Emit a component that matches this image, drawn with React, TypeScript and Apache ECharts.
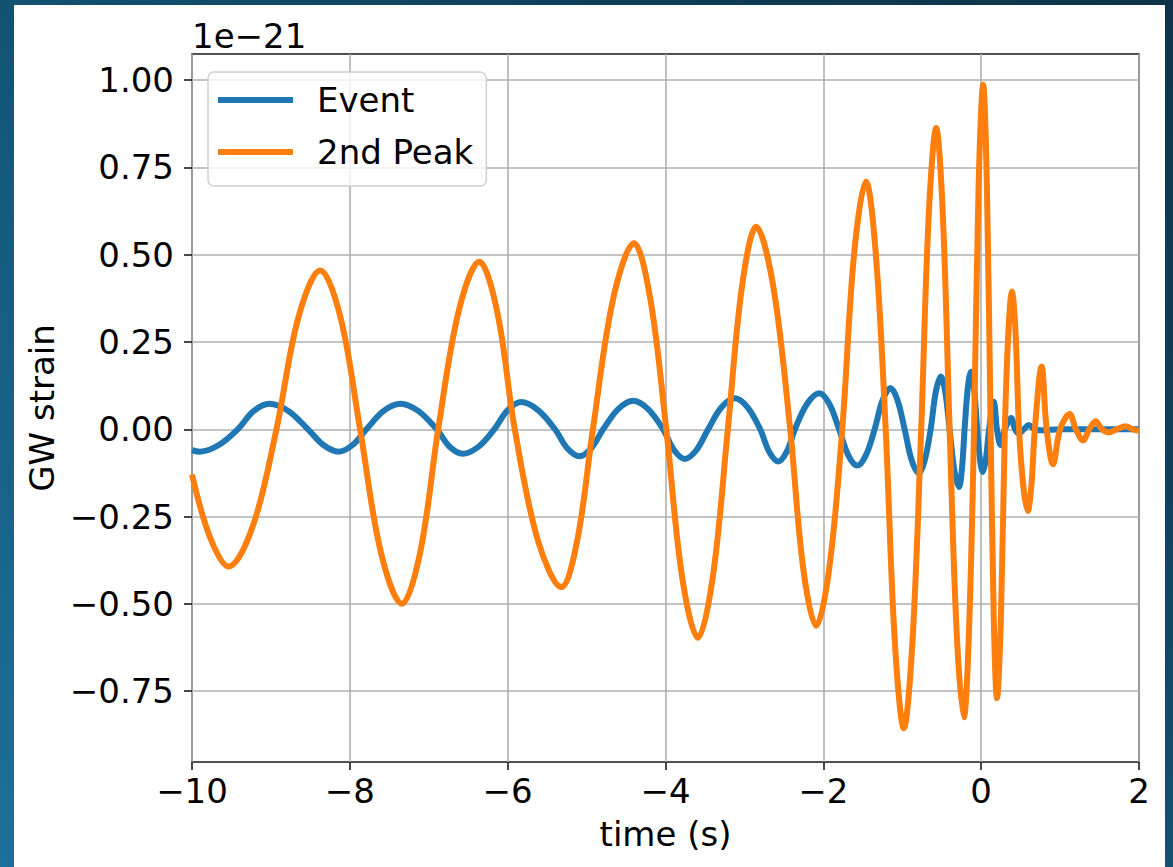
import React, { useEffect, useRef } from 'react';
import * as echarts from 'echarts';

// Values in units of 1e-21 (extremes, zero crossings, mid-slope points)
const timeEvent = [
  -10, -9.9, -9.66, -9.42, -9.22, -9.02, -8.775, -8.53, -8.335, -8.14, -7.965, -7.79,
  -7.575, -7.36, -7.13, -6.9, -6.735, -6.57, -6.37, -6.17, -6.0, -5.83, -5.615, -5.4,
  -5.245, -5.09, -4.94, -4.79, -4.6, -4.41, -4.22, -4.03, -3.89, -3.755, -3.61, -3.46,
  -3.29, -3.12, -2.96, -2.8, -2.685, -2.57, -2.465, -2.36, -2.205, -2.05, -1.925, -1.8,
  -1.685, -1.57, -1.46, -1.35, -1.25, -1.15, -1.06, -0.97, -0.88, -0.79, -0.715, -0.64,
  -0.575, -0.51, -0.455, -0.4, -0.34, -0.28, -0.245, -0.21, -0.17, -0.13, -0.09, -0.05,
  -0.015, 0.02, 0.06, 0.1, 0.16, 0.2, 0.245, 0.3, 0.38, 0.43, 0.48, 0.54, 0.6, 0.68,
  0.75, 1.0, 1.5, 2.0,
];
const strainEvent = [
  -0.06, -0.064, -0.045, 0, 0.052, 0.073, 0.052, 0, -0.045, -0.064, -0.045, 0,
  0.052, 0.073, 0.052, 0, -0.05, -0.07, -0.05, 0, 0.055, 0.078, 0.055, 0,
  -0.054, -0.077, -0.054, 0, 0.058, 0.082, 0.058, 0, -0.06, -0.085, -0.06, 0,
  0.063, 0.089, 0.063, 0, -0.065, -0.092, -0.065, 0, 0.073, 0.103, 0.073, 0,
  -0.074, -0.104, -0.074, 0, 0.083, 0.118, 0.083, 0, -0.089, -0.126, -0.089, 0,
  0.107, 0.151, 0.107, 0, -0.117, -0.165, -0.117, 0, 0.117, 0.165, 0.117, 0,
  -0.086, -0.122, -0.086, 0, 0.079, 0, -0.045, 0, 0.032, 0, -0.012, 0, 0.012, 0,
  -0.003, 0, 0, 0,
];
const timePeak = [
  -10, -9.77, -9.535, -9.23, -8.93, -8.65, -8.375, -8.12, -7.87, -7.605, -7.34, -7.11,
  -6.88, -6.62, -6.36, -6.135, -5.91, -5.615, -5.32, -5.12, -4.92, -4.66, -4.4, -4.195,
  -3.99, -3.79, -3.59, -3.4, -3.21, -3.03, -2.85, -2.635, -2.42, -2.255, -2.09, -1.925,
  -1.76, -1.61, -1.46, -1.335, -1.21, -1.095, -0.98, -0.87, -0.76, -0.665, -0.57, -0.485,
  -0.4, -0.31, -0.22, -0.155, -0.09, -0.0325, 0.025, 0.0725, 0.12, 0.16, 0.2, 0.25,
  0.3, 0.345, 0.39, 0.435, 0.48, 0.535, 0.59, 0.635, 0.68, 0.765, 0.83, 0.91,
  1.0, 1.12, 1.2, 1.29, 1.37, 1.45, 1.53, 1.62, 1.72, 1.83, 1.92, 2.0,
];
const strainPeak = [
  -0.13, -0.31, -0.393, -0.278, 0, 0.322, 0.455, 0.322, 0, -0.354, -0.5, -0.354,
  0, 0.339, 0.48, 0.339, 0, -0.32, -0.452, -0.32, 0, 0.377, 0.533, 0.377,
  0, -0.422, -0.597, -0.422, 0, 0.41, 0.58, 0.41, 0, -0.398, -0.563, -0.398,
  0, 0.502, 0.71, 0.502, 0, -0.605, -0.856, -0.605, 0, 0.61, 0.863, 0.61,
  0, -0.583, -0.825, -0.583, 0, 0.698, 0.987, 0.698, 0, -0.544, -0.77, -0.544,
  0, 0.279, 0.395, 0.279, 0, -0.165, -0.234, -0.165, 0, 0.18, 0, -0.1,
  0, 0.044, 0, -0.032, 0, 0.023, 0, -0.009, 0, 0.009, 0, -0.004,
];
const seriesNames = ['Event', '2nd Peak'];
const seriesColors = ['#1f77b4', '#ff7f0e'];
const yTicks = [-0.75, -0.5, -0.25, 0, 0.25, 0.5, 0.75, 1.0];
const offsetText = '1e\u221221';
const xTitle = 'time (s)';
const yTitle = 'GW strain';

const FONT = 'DejaVu Sans';
const fmt = (v: number, d: number) => {
  const s = Math.abs(v).toFixed(d);
  return v < -1e-9 ? '\u2212' + s : s;
};

export default function App() {
  const ref = useRef<HTMLDivElement>(null);
  useEffect(() => {
    const chart = echarts.init(ref.current!, null, { renderer: 'svg' });
    const axisColor = '#1a1a1a';
    chart.setOption({
      animation: false,
      backgroundColor: 'transparent',
      grid: {
        left: 192, top: 54, right: 34, bottom: 105,
        show: true, borderColor: axisColor, borderWidth: 1.6, backgroundColor: 'transparent',
      },
      xAxis: {
        type: 'value', min: -10, max: 2, interval: 2,
        name: xTitle, nameLocation: 'middle', nameGap: 55,
        nameTextStyle: { fontFamily: FONT, fontSize: 34, color: '#000' },
        axisLine: { show: false, onZero: false },
        axisTick: { show: true, length: 8, lineStyle: { color: axisColor, width: 1.6 } },
        axisLabel: { margin: 12, fontFamily: FONT, fontSize: 34, color: '#000', formatter: (v: number) => fmt(v, 0) },
        splitLine: { show: true, lineStyle: { color: '#b0b0b0', width: 1.6 } },
      },
      yAxis: {
        type: 'value', min: -0.953, max: 1.075,
        name: yTitle, nameLocation: 'middle', nameGap: 130,
        nameTextStyle: { fontFamily: FONT, fontSize: 34, color: '#000' },
        axisLine: { show: false, onZero: false },
        axisTick: { show: true, length: 8, customValues: yTicks, lineStyle: { color: axisColor, width: 1.6 } },
        axisLabel: { margin: 18, customValues: yTicks, fontFamily: FONT, fontSize: 34, color: '#000', formatter: (v: number) => fmt(v, 2) },
        splitLine: { show: true, lineStyle: { color: '#b0b0b0', width: 1.6 } },
      },
      legend: {
        orient: 'vertical', left: 208, top: 72, icon: 'rect',
        itemWidth: 75, itemHeight: 6, itemGap: 12,
        padding: [8, 13, 14, 10],
        backgroundColor: 'rgba(255,255,255,0.8)', borderColor: '#d0d0d0', borderWidth: 1.5, borderRadius: 6,
        textStyle: { fontFamily: FONT, fontSize: 34, color: '#000', lineHeight: 40, padding: [0, 0, 0, 19] },
        data: seriesNames,
      },
      graphic: [
        {
          type: 'text', x: 192, y: 36,
          style: { text: offsetText, fontFamily: FONT, fontSize: 34, fill: '#000', align: 'left', verticalAlign: 'middle' },
        },
      ],
      series: [
        {
          name: seriesNames[0], type: 'line', color: seriesColors[0],
          data: timeEvent.map((t, i) => [t, strainEvent[i]]),
          showSymbol: false, symbol: 'none', smooth: 0.35,
          lineStyle: { width: 6, color: seriesColors[0] },
        },
        {
          name: seriesNames[1], type: 'line', color: seriesColors[1],
          data: timePeak.map((t, i) => [t, strainPeak[i]]),
          showSymbol: false, symbol: 'none', smooth: 0.35,
          lineStyle: { width: 6, color: seriesColors[1] },
        },
      ],
    });
    return () => chart.dispose();
  }, []);
  return (
    <div style={{ position: 'fixed', left: 0, top: 0, width: 1173, height: 867, overflow: 'hidden',
      background: 'linear-gradient(to top right, #1d7099 0%, #145a7c 40%, #0f3f58 75%, #0e3349 100%)' }}>
      <div style={{ position: 'absolute', left: 14, top: 5, width: 1151, height: 862, background: '#ffffff' }} />
      <div ref={ref} style={{ position: 'absolute', left: 0, top: 0, width: 1173, height: 867 }} />
    </div>
  );
}
